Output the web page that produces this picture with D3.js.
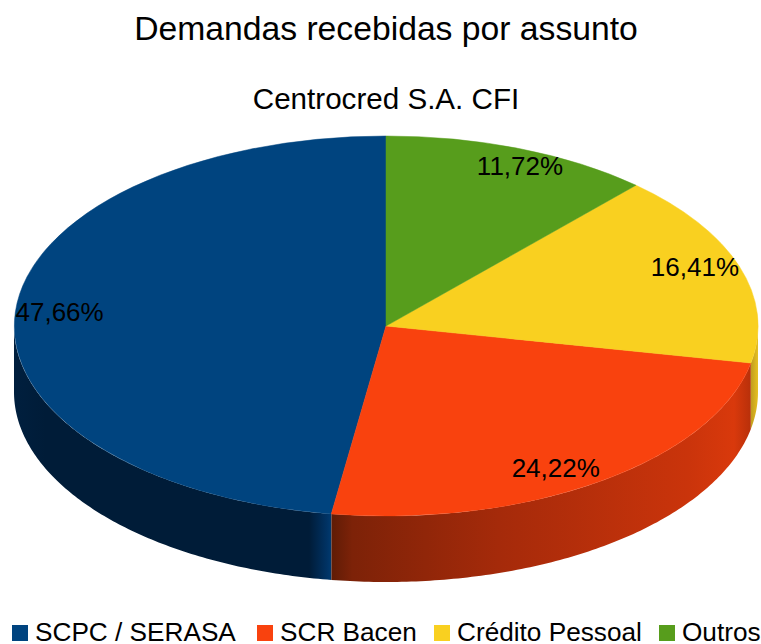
<!DOCTYPE html>
<html>
  <head>
    <meta charset="utf-8" />
    <script src="https://d3js.org/d3.v7.min.js"></script>
    <style>
      html, body { margin: 0; padding: 0; background: #ffffff; overflow: hidden; }
      text { font-family: "Liberation Sans", sans-serif; fill: #000000; }
    </style>
  </head>
  <body>
    <div id="chartContainer"></div>
    <script>
      const chartTitle = "Demandas recebidas por assunto";
      const chartSubtitle = "Centrocred S.A. CFI";
      const categories = ["SCPC / SERASA", "SCR Bacen", "Crédito Pessoal", "Outros"];
      const values = [47.66, 24.22, 16.41, 11.72];
      const valueLabels = ["47,66%", "24,22%", "16,41%", "11,72%"];

      const width = 761, height = 644;
      const colors = ["#00447f", "#f9420e", "#f9d020", "#579d1c"];
      const depth = 66;

      // wall shading, left to right, in page x
      const wallStops = [
        [[0, "#001f3e"], [0.1, "#001c38"], [0.93, "#001c38"], [0.985, "#003263"], [1, "#003a70"]],
        [[0, "#5f1c06"], [0.05, "#7d2208"], [0.4, "#a52a0a"], [0.85, "#ca340b"], [0.96, "#d9390c"], [1, "#b8300a"]],
        [[0, "#c09c1e"], [1, "#e6c020"]],
        [[0, "#3c6d13"], [1, "#3c6d13"]]
      ];
      // label shift from the slice centroid
      const labelShift = [[7.5, -1], [-23, 2], [-9, -5], [13.5, 0]];

      const x = d3.scaleLinear().domain([-1, 1]).range([14, 758]);
      const y = d3.scaleLinear().domain([-1, 1]).range([136, 516]);

      const svg = d3.select("#chartContainer")
        .append("svg")
        .attr("width", width)
        .attr("height", height)
        .style("display", "block");

      const pie = d3.pie().sort(null).value((d) => d).startAngle(0).endAngle(-2 * Math.PI);
      const slices = pie(values);
      const defs = svg.append("defs");

      // front walls: only the part of each slice facing the viewer
      const wall = d3.area()
        .x((a) => x(Math.sin(a)))
        .y0((a) => y(-Math.cos(a)))
        .y1((a) => y(-Math.cos(a)) + depth);

      slices.forEach(function (d, i) {
        const a0 = Math.max(d.endAngle, -1.5 * Math.PI);
        const a1 = Math.min(d.startAngle, -0.5 * Math.PI);
        if (a0 >= a1) return;
        const samples = d3.range(0, 121).map((k) => a0 + ((a1 - a0) * k) / 120);
        const x0 = d3.min(samples, (a) => x(Math.sin(a)));
        const x1 = d3.max(samples, (a) => x(Math.sin(a)));
        const grad = defs.append("linearGradient")
          .attr("id", "wall" + i)
          .attr("gradientUnits", "userSpaceOnUse")
          .attr("x1", x0).attr("x2", x1).attr("y1", 0).attr("y2", 0);
        wallStops[i].forEach(function (s) {
          grad.append("stop").attr("offset", s[0]).attr("stop-color", s[1]);
        });
        svg.append("path")
          .attr("d", wall(samples))
          .attr("fill", "url(#wall" + i + ")");
      });

      // top of the pie is a unit circle squashed onto the scales
      const arc = d3.arc().innerRadius(0).outerRadius(1);
      const pieTop = svg.append("g")
        .attr("transform", `translate(${x(0)},${y(0)}) scale(${x(1) - x(0)},${y(1) - y(0)})`);
      pieTop.selectAll("path")
        .data(slices)
        .enter()
        .append("path")
        .attr("d", arc)
        .attr("fill", (d, i) => colors[i])
        .attr("stroke", (d, i) => colors[i])
        .attr("stroke-width", 0.5)
        .attr("vector-effect", "non-scaling-stroke");

      svg.selectAll(".value")
        .data(slices)
        .enter()
        .append("text")
        .attr("class", "value")
        .attr("text-anchor", "middle")
        .attr("font-size", 26)
        .attr("x", (d, i) => x(0.9 * Math.sin((d.startAngle + d.endAngle) / 2)) + labelShift[i][0])
        .attr("y", (d, i) => y(-0.9 * Math.cos((d.startAngle + d.endAngle) / 2)) + labelShift[i][1] + 9)
        .text((d, i) => valueLabels[i]);

      svg.append("text")
        .attr("x", 386).attr("y", 40)
        .attr("text-anchor", "middle")
        .attr("font-size", 33.7)
        .text(chartTitle);

      svg.append("text")
        .attr("x", 386).attr("y", 109)
        .attr("text-anchor", "middle")
        .attr("font-size", 29.6)
        .text(chartSubtitle);

      const legendX = [12, 257, 434, 659];
      const legend = svg.selectAll(".legend").data(categories).enter().append("g").attr("class", "legend");
      legend.append("rect")
        .attr("x", (d, i) => legendX[i])
        .attr("y", 625)
        .attr("width", 16)
        .attr("height", 16)
        .attr("fill", (d, i) => colors[i]);
      legend.append("text")
        .attr("x", (d, i) => legendX[i] + 23)
        .attr("y", 641)
        .attr("font-size", 26.2)
        .text((d) => d);
    </script>
  </body>
</html>
